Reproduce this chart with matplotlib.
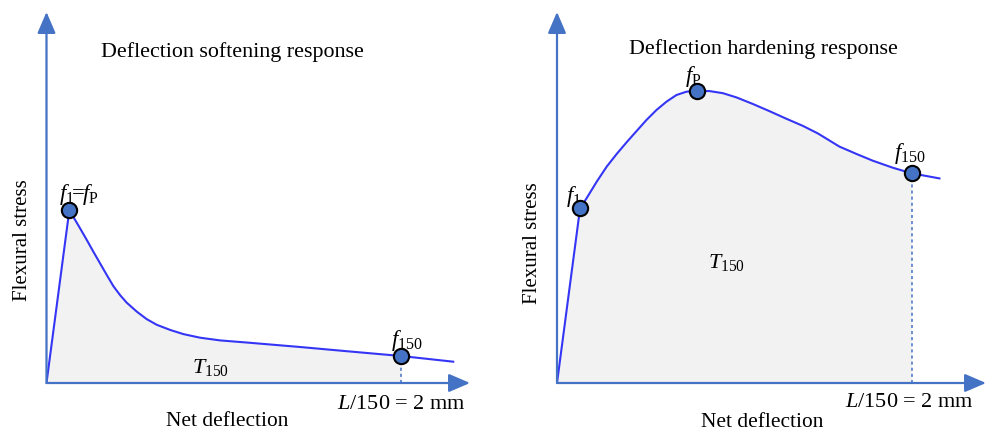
import matplotlib
matplotlib.use("Agg")
import matplotlib.pyplot as plt

plt.rcParams['font.family'] = ['Liberation Serif', 'DejaVu Serif']
plt.rcParams['mathtext.fontset'] = 'custom'
plt.rcParams['mathtext.rm'] = 'Liberation Serif'
plt.rcParams['mathtext.it'] = 'Liberation Serif:italic'

# softening curve: net deflection (mm) vs flexural stress
soft_x = [0, 0.129, 0.151, 0.189, 0.227, 0.264, 0.302, 0.340, 0.377, 0.415,
          0.452, 0.509, 0.565, 0.622, 0.697, 0.772, 0.866, 0.979, 1.148,
          1.430, 1.712, 2.0, 2.294]
soft_y = [0, 5.77, 5.54, 5.16, 4.77, 4.38, 3.99, 3.60, 3.23, 2.93,
          2.68, 2.38, 2.13, 1.94, 1.77, 1.63, 1.51, 1.42, 1.34,
          1.20, 1.05, 0.90, 0.71]

# hardening curve
hard_x = [0, 0.130, 0.167, 0.224, 0.280, 0.336, 0.392, 0.449, 0.505, 0.561,
          0.618, 0.674, 0.730, 0.790, 0.861, 0.936, 1.012, 1.105, 1.199,
          1.293, 1.387, 1.471, 1.593, 1.687, 1.781, 1.892, 2.0, 2.157]
hard_y = [0, 5.82, 6.16, 6.71, 7.21, 7.63, 8.02, 8.40, 8.77, 9.10,
          9.38, 9.60, 9.71, 9.74, 9.73, 9.66, 9.52, 9.30, 9.06,
          8.81, 8.57, 8.32, 7.88, 7.64, 7.41, 7.18, 6.99, 6.82]

# marked points (index into the curves above)
soft_marks = [1, 21]
hard_marks = [1, 13, 26]
d150 = 2.0

axis_col = '#4472C4'
line_col = '#3535F5'
fill_col = '#F2F2F2'

W, H = 987, 434
fig = plt.figure(figsize=(W / 100, H / 100), dpi=100)


def panel(x0, x1, xs, ys, marks):
    ax = fig.add_axes([x0 / W, (H - 383) / H, (x1 - x0) / W, (383 - 12) / H])
    ax.set_xlim(0, (x1 - x0) / 177.3)
    ax.set_ylim(0, (383 - 12) / 30)
    ax.axis('off')
    xf = [x for x in xs if x <= d150]
    ax.fill_between(xf, ys[:len(xf)], 0, color=fill_col, lw=0)
    ax.plot(xs, ys, color=line_col, lw=1.5, zorder=3, solid_joinstyle='round')
    i150 = xs.index(d150)
    ax.plot([d150, d150], [0, ys[i150]], color=axis_col, lw=1.1,
            ls=(0, (2, 2)), zorder=2)
    xmax, ymax = ax.get_xlim()[1], ax.get_ylim()[1]
    arrow = dict(arrowstyle='-|>,head_length=0.65,head_width=0.28',
                 color=axis_col, lw=1.6, mutation_scale=20, shrinkA=0, shrinkB=0)
    ax.annotate('', xy=(xmax, 0), xytext=(0, 0), arrowprops=arrow,
                annotation_clip=False, zorder=4)
    ax.annotate('', xy=(0, ymax), xytext=(0, 0), arrowprops=arrow,
                annotation_clip=False, zorder=4)
    ax.plot([xs[i] for i in marks], [ys[i] for i in marks], 'o', ms=11,
            mfc=axis_col, mec='black', mew=1.5, zorder=5, clip_on=False)
    return ax


ax1 = panel(46.5, 470, soft_x, soft_y, soft_marks)
ax2 = panel(557, 986, hard_x, hard_y, hard_marks)

fs = 15.4
fm = 16.5
ax1.text(d150, -0.88, '$L$/150 = 2 mm', fontsize=16, ha='center', va='baseline')
ax2.text(d150 - 0.01, -0.79, '$L$/150 = 2 mm', fontsize=16, ha='center',
         va='baseline')

ax1.text(0.184, 6.1, r'$f_{\mathrm{1}}\!\!=\!\!f_{\mathrm{P}}$', fontsize=fm,
         ha='center', va='baseline')
ax1.text(2.035, 1.23, r'$f_{\mathrm{150}}$', fontsize=fm, ha='center',
         va='baseline')
ax1.text(0.924, 0.34, r'$T_{\mathrm{150}}$', fontsize=16, ha='center',
         va='baseline')

ax2.text(0.092, 6.04, r'$f_{\mathrm{1}}$', fontsize=fm, ha='center',
         va='baseline')
ax2.text(0.769, 10.04, r'$f_{\mathrm{P}}$', fontsize=fm, ha='center',
         va='baseline')
ax2.text(1.988, 7.46, r'$f_{\mathrm{150}}$', fontsize=fm, ha='center',
         va='baseline')
ax2.text(0.957, 3.83, r'$T_{\mathrm{150}}$', fontsize=16, ha='center',
         va='baseline')

fig.text(232.5 / W, 1 - 51.7 / H, 'Deflection softening response', fontsize=15.8,
         ha='center', va='center')
fig.text(763 / W, 1 - 49 / H, 'Deflection hardening response', fontsize=15.8,
         ha='center', va='center')
fig.text(23 / W, 1 - 240 / H, 'Flexural stress', fontsize=15, rotation=90,
         ha='center', va='center')
fig.text(533 / W, 1 - 243 / H, 'Flexural stress', fontsize=15, rotation=90,
         ha='center', va='center')
fig.text(227 / W, 1 - 421.7 / H, 'Net deflection', fontsize=fs,
         ha='center', va='center')
fig.text(761.7 / W, 1 - 422.7 / H, 'Net deflection', fontsize=fs,
         ha='center', va='center')

fig.savefig('out.png', dpi=100)
